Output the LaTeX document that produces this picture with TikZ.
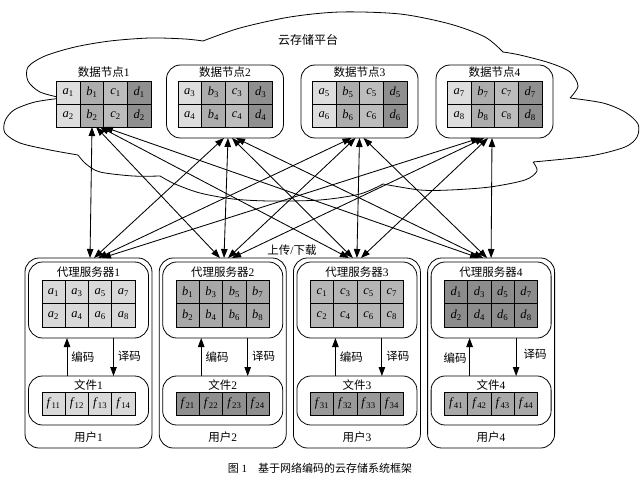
\documentclass[tikz,border=0pt]{standalone}
\usepackage{fontspec}
\setmainfont{Liberation Serif}
\newfontfamily\cjk{Noto Sans CJK SC}
\usetikzlibrary{arrows.meta}
\newcommand{\zhtxt}[1]{{\cjk #1}}
\newcommand{\cellv}[2]{\textit{#1}\textsubscript{#2}}
\definecolor{da}{gray}{0.87}
\definecolor{db}{gray}{0.68}
\definecolor{dc}{gray}{0.74}
\definecolor{dd}{gray}{0.56}
\definecolor{pa}{gray}{0.85}
\definecolor{pb}{gray}{0.66}
\definecolor{pc}{gray}{0.71}
\definecolor{pd}{gray}{0.55}
\definecolor{fa}{gray}{0.85}
\definecolor{fb}{gray}{0.56}
\definecolor{fc}{gray}{0.60}
\definecolor{fd}{gray}{0.66}
\begin{document}
\begin{tikzpicture}[x=1pt,y=-1pt,line width=0.8pt,
  cellbox/.style={draw, line width=0.8pt, inner sep=0pt, outer sep=0pt, font=\fontsize{12.5}{12.5}\selectfont},
  roundbox/.style={draw, rounded corners=14pt, inner sep=0pt, outer sep=0pt},
  zh/.style={font=\fontsize{11.5}{12}\selectfont, inner sep=0pt},
  dbl/.style={{Triangle[length=9pt,width=6.5pt]}-{Triangle[length=9pt,width=6.5pt]}, line width=0.85pt},
  sgl/.style={-{Triangle[length=9pt,width=6.5pt]}, line width=0.85pt}]
\useasboundingbox (0,0) rectangle (642,481);

% cloud
\draw[line width=0.8pt]
  plot[smooth] coordinates {(62,98) (40,92) (28,81) (28,67) (45,56) (75,47) (110,41) (150,38) (185,39) (203,41)}
  plot[smooth] coordinates {(203,41) (240,28) (290,17) (340,12) (400,14) (450,24) (485,37) (503,52)}
  plot[smooth] coordinates {(503,52) (520,55) (550,63) (570,72) (578,86) (570,98)}
  plot[smooth] coordinates {(570,98) (603,103) (625,112) (638,124) (637,137) (625,147) (590,156) (533,162)}
  plot[smooth] coordinates {(533,162) (537,171) (525,180) (490,187) (450,190) (420,190) (383,184)}
  plot[smooth] coordinates {(383,184) (360,194) (320,200) (270,201) (233,199) (200,193) (175,184) (160,176)}
  plot[smooth] coordinates {(160,176) (133,176) (100,172) (86,164) (78,155)}
  plot[smooth] coordinates {(78,155) (50,150) (20,143) (5,133) (5,121) (14,110) (35,102) (62,98)};
\node[font=\fontsize{12}{12}\selectfont, inner sep=0pt] (cloudtitle) at (308,40) {\zhtxt{云存储平台}};

% data nodes
\node[roundbox, fill=white, minimum width=117pt, minimum height=73pt] (dn2) at (225,101.5) {};
\node[roundbox, fill=white, minimum width=117pt, minimum height=73pt] (dn3) at (359.5,101.5) {};
\node[roundbox, fill=white, minimum width=117pt, minimum height=73pt] (dn4) at (494.5,101.5) {};
\node[minimum width=94.4pt, minimum height=46pt, inner sep=0pt, outer sep=0pt] (dn1) at (103.7,104) {};
\foreach \k/\cx in {1/103.7,2/225,3/359.5,4/494.5}{
  \node[zh] (dt\k) at (\cx,72) {\zhtxt{数据节点}\k};
}
\foreach \k/\x in {1/56.5,2/178,3/312.5,4/447.5}{
  \foreach \L [count=\c from 0] in {a,b,c,d}{
    \foreach \r in {0,1}{
      \pgfmathtruncatemacro\s{2*\k-1+\r}
      \node[cellbox, fill=d\L, minimum width=23.6pt, minimum height=23pt] (n\k-\L-\r) at ({\x+23.6*(\c+0.5)},{81+23*(\r+0.5)}) {\cellv{\L}{\s}};
    }
  }
}

% users
\foreach \k/\L/\cx in {1/a/88.5,2/b/222.7,3/c/356.9,4/d/491.1}{
  \node[roundbox, minimum width=127pt, minimum height=190pt] (us\k) at (\cx,353) {};
  \node[roundbox, minimum width=120pt, minimum height=76pt] (px\k) at (\cx,300) {};
  \node[roundbox, minimum width=120pt, minimum height=49pt] (fl\k) at (\cx,400.5) {};
  \node[zh] (pt\k) at (\cx,272) {\zhtxt{代理服务器}\k};
  \node[zh] (ft\k) at (\cx,385) {\zhtxt{文件}\k};
  \node[zh] (ut\k) at (\cx,437) {\zhtxt{用户}\k};
  \foreach \c in {0,1,2,3}{
    \foreach \r in {0,1}{
      \pgfmathtruncatemacro\s{2*\c+1+\r}
      \node[cellbox, fill=p\L, minimum width=23.3pt, minimum height=23.1pt] (p\k-\c-\r) at ({\cx-46.6+23.3*(\c+0.5)},{280.7+23.1*(\r+0.5)}) {\cellv{\L}{\s}};
    }
    \pgfmathtruncatemacro\t{\c+1}
    \node[cellbox, fill=f\L, minimum width=23.3pt, minimum height=22.3pt] (f\k-\c) at ({\cx-46.6+23.3*(\c+0.5)},403.9) {\cellv{f}{\k\t}};
  }
  \draw[sgl] ([xshift=-21.5pt]fl\k.north) -- ([xshift=-21.5pt]px\k.south);
  \draw[sgl] ([xshift=25pt]px\k.south) -- ([xshift=25pt]fl\k.north);
}
\foreach \k in {1,2,3}{
  \node[zh, anchor=west] (enc\k) at ([xshift=-17.5pt,yshift=-19pt]px\k.south) {\zhtxt{编码}};
  \node[zh, anchor=west] (dec\k) at ([xshift=29pt,yshift=-18.5pt]px\k.south) {\zhtxt{译码}};
}
\node[zh, anchor=east] (enc4) at ([xshift=-24pt,yshift=-20pt]px4.south) {\zhtxt{编码}};
\node[zh, anchor=west] (dec4) at ([xshift=32pt,yshift=-16pt]px4.south) {\zhtxt{译码}};

% anchors for upload/download
\coordinate (D1) at ([xshift=-11.7pt]dn1.south);
\coordinate (D2) at ([xshift=3pt]dn2.south);
\coordinate (D3) at (dn3.south);
\coordinate (D4) at ([xshift=-2.5pt]dn4.south);
\coordinate (U1) at ([xshift=1.5pt]us1.north);
\coordinate (U2) at ([xshift=1.3pt]us2.north);
\coordinate (U3) at (us3.north);
\coordinate (U4) at (us4.north);
\foreach \i in {1,2,3,4}{
  \foreach \j in {1,2,3,4}{
    \pgfmathsetmacro\dx{4*(\j-\i)}
    \pgfmathsetmacro\ndx{-4*(\j-\i)}
    \draw[dbl] ([xshift=\dx pt]D\i) -- ([xshift=\ndx pt]U\j);
  }
}
\node[zh] (updown) at (292,250) {\zhtxt{上传}/\zhtxt{下载}};

% caption
\node[font=\fontsize{11}{12}\selectfont, inner sep=0pt] (caption) at (320,468) {\zhtxt{图}~1\hspace{1em}\zhtxt{基于网络编码的云存储系统框架}};
\end{tikzpicture}
\end{document}
